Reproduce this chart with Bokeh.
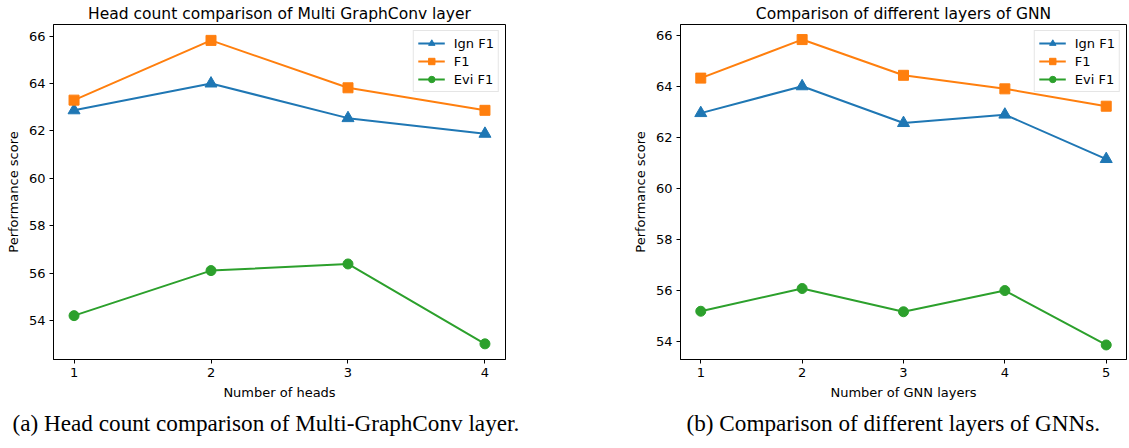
from bokeh.plotting import figure
from bokeh.layouts import row
from bokeh.models import Range1d, Title, Legend
from bokeh.embed import file_html
from bokeh.resources import INLINE

# ---- data ----
heads = [1, 2, 3, 4]
heads_ign_f1 = [62.87, 64.0, 62.54, 61.88]
heads_f1 = [63.3, 65.82, 63.82, 62.87]
heads_evi_f1 = [54.21, 56.11, 56.39, 53.02]

layers = [1, 2, 3, 4, 5]
layers_ign_f1 = [62.95, 64.0, 62.56, 62.89, 61.15]
layers_f1 = [64.32, 65.83, 64.43, 63.9, 63.22]
layers_evi_f1 = [55.19, 56.08, 55.17, 56.0, 53.87]

y_ticks = [54, 56, 58, 60, 62, 64, 66]

BLUE, ORANGE, GREEN = "#1f77b4", "#ff7f0e", "#2ca02c"
FONT = "DejaVu Sans"


def make_fig(x, ign, f1, evi, xr, yr, title, xlabel, caption, cap_offset, width, mbl, mbr):
    p = figure(width=width, height=448, output_backend="svg", toolbar_location=None,
               x_range=Range1d(*xr), y_range=Range1d(*yr),
               min_border_left=mbl, min_border_right=mbr,
               min_border_top=23, min_border_bottom=89)
    p.title.text = title
    p.title.text_font = FONT
    p.title.text_font_size = "15.5px"
    p.title.text_font_style = "normal"
    p.title.align = "center"
    p.title.standoff = 4
    p.title.text_color = "black"

    p.xgrid.visible = False
    p.ygrid.visible = False
    p.outline_line_color = "black"
    p.outline_line_width = 1
    p.background_fill_color = "white"
    p.border_fill_color = "white"

    p.xaxis.ticker = x
    p.yaxis.ticker = y_ticks
    for ax in (p.xaxis[0], p.yaxis[0]):
        ax.axis_line_color = "black"
        ax.major_tick_line_color = "black"
        ax.major_tick_out = 4
        ax.major_tick_in = 0
        ax.minor_tick_line_color = None
        ax.major_label_text_font = FONT
        ax.major_label_text_font_size = "13px"
        ax.major_label_text_color = "black"
        ax.axis_label_text_font = FONT
        ax.axis_label_text_font_size = "13px"
        ax.axis_label_text_font_style = "normal"
        ax.axis_label_text_color = "black"
        ax.major_label_standoff = 4
        ax.axis_label_standoff = 5
    p.xaxis.axis_label = xlabel
    p.yaxis.axis_label = "Performance score"

    r1 = p.line(x, ign, color=BLUE, line_width=2)
    s1 = p.scatter(x, ign, marker="triangle", size=12, color=BLUE)
    r2 = p.line(x, f1, color=ORANGE, line_width=2)
    s2 = p.scatter(x, f1, marker="square", size=10, color=ORANGE)
    r3 = p.line(x, evi, color=GREEN, line_width=2)
    s3 = p.scatter(x, evi, marker="circle", size=10, color=GREEN)

    legend = Legend(items=[("Ign F1", [r1, s1]), ("F1", [r2, s2]), ("Evi F1", [r3, s3])],
                    location="top_right")
    legend.label_text_font = FONT
    legend.label_text_font_size = "13px"
    legend.label_text_color = "black"
    legend.glyph_width = 27
    legend.glyph_height = 16
    legend.label_height = 16
    legend.spacing = 2
    legend.padding = 4
    legend.margin = 6
    legend.label_standoff = 9
    legend.border_line_color = "#cccccc"
    legend.border_line_width = 1
    legend.background_fill_alpha = 0.8
    p.add_layout(legend, "center")

    cap = Title(text=caption, align="left", offset=cap_offset, text_font="Liberation Serif",
                text_font_size="23.2px", text_font_style="normal", text_color="black",
                standoff=10)
    p.add_layout(cap, "below")
    return p


p1 = make_fig(heads, heads_ign_f1, heads_f1, heads_evi_f1, (0.85, 4.15), (52.36, 66.49),
              "Head count comparison of Multi GraphConv layer", "Number of heads",
              "(a) Head count comparison of Multi-GraphConv layer.", -41, 600, 53, 95)
p2 = make_fig(layers, layers_ign_f1, layers_f1, layers_evi_f1, (0.8, 5.2), (53.3, 66.42),
              "Comparison of different layers of GNN", "Number of GNN layers",
              "(b) Comparison of different layers of GNNs.", 6, 529, 80, 3)

p = row(p1, p2)
open("out.html", "w").write(file_html(p, INLINE))
